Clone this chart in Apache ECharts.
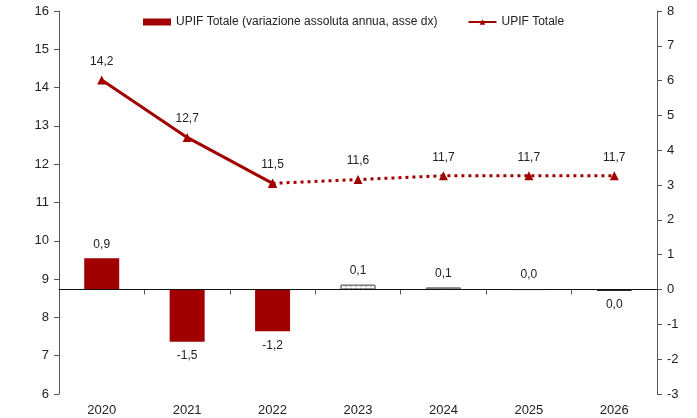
<!DOCTYPE html>
<html>
<head>
<meta charset="utf-8">
<script src="https://cdn.jsdelivr.net/npm/echarts@6/dist/echarts.min.js"></script>
<style>
  html, body { margin: 0; padding: 0; background: #fff; }
  #chart { width: 697px; height: 418px; }
</style>
</head>
<body>
<div id="chart"></div>
<script>
// dati
const years = ["2020", "2021", "2022", "2023", "2024", "2025", "2026"];
const upifTotale = [14.2, 12.7, 11.5, 11.6, 11.7, 11.7, 11.7];
const variazioneAnnua = [0.9, -1.5, -1.2, 0.14, 0.06, 0.0, -0.03];
const firstForecast = 3; // dal 2023 previsioni

const red = "#a00000";
const fontFam = "Liberation Sans, Arial, sans-serif";

function fmt(v) {
  let s = v.toFixed(1);
  if (s === "-0.0") s = "0.0";
  return s.replace(".", ",");
}

const chart = echarts.init(document.getElementById("chart"));

const barData = variazioneAnnua.map((v, i) => {
  const item = {
    value: v,
    label: { position: v < 0 ? "bottom" : "top" },
  };
  if (i >= firstForecast) {
    item.itemStyle = {
      color: "#fff",
      borderColor: v < 0 ? "#222" : "#777",
      borderWidth: 1,
      decal: {
        symbol: "rect",
        color: red,
        symbolSize: 0.6,
        dashArrayX: [2, 3],
        dashArrayY: [2, 1],
      },
    };
  }
  return item;
});

// linea: tratto continuo fino al 2022, poi punteggiato
const lineSolid = upifTotale.map((v, i) => (i <= 2 ? v : "-"));
const lineDotted = upifTotale.map((v, i) => (i >= 2 ? v : "-"));

const option = {
  animation: false,
  textStyle: { fontFamily: fontFam },
  grid: { left: 59, right: 40, top: 11, bottom: 24 },
  legend: {
    left: 138,
    top: 11,
    itemWidth: 28,
    itemHeight: 7,
    itemGap: 30,
    textStyle: { fontSize: 12, color: "#222", fontFamily: fontFam },
    data: [
      { name: "UPIF Totale (variazione assoluta annua, asse dx)", icon: "rect" },
      { name: "UPIF Totale" },
    ],
  },
  xAxis: {
    type: "category",
    data: years,
    boundaryGap: true,
    axisLine: { lineStyle: { color: "#555", width: 1 } },
    axisTick: { show: true, lineStyle: { color: "#555" } },
    axisLabel: { color: "#222", fontSize: 13, margin: 10 },
  },
  yAxis: [
    {
      type: "value",
      min: 6,
      max: 16,
      interval: 1,
      axisLine: { show: true, lineStyle: { color: "#555" } },
      axisTick: { show: true, lineStyle: { color: "#555" } },
      axisLabel: { color: "#222", fontSize: 13, margin: 10 },
      splitLine: { show: false },
    },
    {
      type: "value",
      min: -3,
      max: 8,
      interval: 1,
      position: "right",
      axisLine: { show: true, lineStyle: { color: "#555" } },
      axisTick: { show: true, lineStyle: { color: "#555" } },
      axisLabel: { color: "#222", fontSize: 13, margin: 10 },
      splitLine: { show: false },
    },
  ],
  series: [
    {
      name: "UPIF Totale (variazione assoluta annua, asse dx)",
      type: "bar",
      yAxisIndex: 1,
      barWidth: 35,
      itemStyle: { color: red },
      label: {
        show: true,
        distance: 8,
        color: "#222",
        fontSize: 12,
        formatter: (p) => fmt(p.value),
      },
      markLine: {
        silent: true,
        symbol: "none",
        label: { show: false },
        lineStyle: { color: "#111", width: 1.2, type: "solid" },
        data: [{ yAxis: 0 }],
      },
      data: barData,
      z: 2,
    },
    {
      name: "UPIF Totale",
      type: "line",
      yAxisIndex: 0,
      symbol: "triangle",
      symbolSize: 9,
      lineStyle: { color: red, width: 3 },
      itemStyle: { color: red },
      label: {
        show: true,
        position: "top",
        distance: 8,
        color: "#222",
        fontSize: 12,
        formatter: (p) => fmt(p.value),
      },
      data: lineSolid,
      z: 3,
    },
    {
      name: "UPIF Totale",
      type: "line",
      yAxisIndex: 0,
      symbol: "triangle",
      symbolSize: 9,
      lineStyle: { color: red, width: 3, type: [3, 4] },
      itemStyle: { color: red },
      label: {
        show: true,
        position: "top",
        distance: 8,
        color: "#222",
        fontSize: 12,
        formatter: (p) => (p.dataIndex > 2 ? fmt(p.value) : ""),
      },
      data: lineDotted,
      z: 3,
    },
  ],
};

chart.setOption(option);
window.addEventListener("resize", () => chart.resize());
</script>
</body>
</html>
